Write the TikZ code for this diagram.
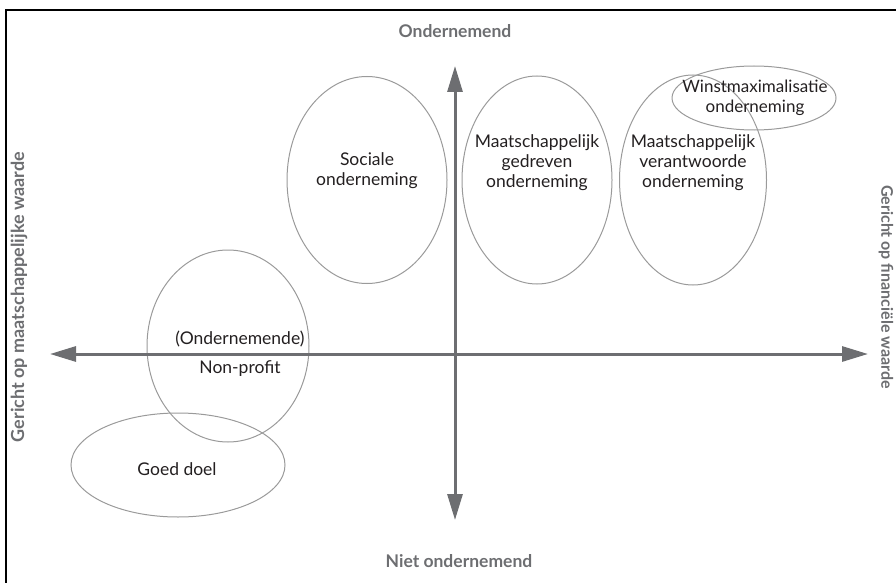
\documentclass[tikz,border=0pt]{standalone}
\usepackage{fontspec}
\setmainfont{Lato}
\usetikzlibrary{shapes.geometric,arrows.meta}
\definecolor{axisgray}{HTML}{6D6E71}
\definecolor{ringgray}{HTML}{9A9A9A}
\definecolor{ink}{HTML}{231F20}
\tikzset{
  ring/.style={ellipse, draw=ringgray, line width=1pt, inner sep=0pt},
  txt/.style={text=ink, font=\fontsize{17.5}{20}\selectfont, align=center, inner sep=0pt},
  axislabel/.style={text=axisgray, font=\bfseries\fontsize{17.5}{19}\selectfont, inner sep=0pt},
  axis/.style={draw=axisgray, line width=3pt, -{Triangle[length=26pt,width=15pt]}},
}
\begin{document}
\begin{tikzpicture}[x=1pt,y=-1pt]
\useasboundingbox (0,0) rectangle (896,583);
\draw[line width=2pt, black] (6,583) -- (6,10) -- (896,10);

% ellipses
\node[ring, minimum width=162pt, minimum height=192pt] (np) at (228,346) {};
\node[ring, minimum width=214pt, minimum height=104pt] (gd) at (178,465) {};
\node[ring, minimum width=160pt, minimum height=207pt] (so) at (367,180) {};
\node[ring, minimum width=150pt, minimum height=208pt] (mg) at (537,180) {};
\node[ring, minimum width=147pt, minimum height=210pt] (mv) at (693,180) {};
\node[ring, minimum width=164pt, minimum height=64pt] (wm) at (754,98) {};

% axes
\coordinate (xl) at (50,354);
\coordinate (xr) at (868,354);
\coordinate (yt) at (455,66);
\coordinate (yb) at (455,520);
\coordinate (o) at (455,354);
\draw[axis] (o) -- (xl);
\draw[axis] (o) -- (xr);
\draw[axis] (o) -- (yt);
\draw[axis] (o) -- (yb);

% axis labels
\node[axislabel] (top) at (455,31) {Ondernemend};
\node[axislabel] (bot) at (459,561) {Niet ondernemend};
\node[axislabel, font=\bfseries\fontsize{18}{20}\selectfont, rotate=90] (lft) at (19,297) {Gericht op maatschappelijke waarde};
\node[axislabel, font=\bfseries\fontsize{16}{18}\selectfont, rotate=-90] (rgt) at (886,287) {Gericht op financiële waarde};

% texts
\node[txt] (tso) at (367,171) {Sociale\\onderneming};
\node[txt] (tmg) at (537,163) {Maatschappelijk\\gedreven\\onderneming};
\node[txt] (tmv) at (693,163) {Maatschappelijk\\verantwoorde\\onderneming};
\node[txt, font=\fontsize{17}{20}\selectfont] (twm) at (755,98) {Winstmaximalisatie\\onderneming};
\node[txt] (tnp1) at (240,339) {(Ondernemende)};
\node[txt] (tnp2) at (240,369) {Non-profit};
\node[txt] (tgd) at (177,469) {Goed doel};
\end{tikzpicture}
\end{document}
